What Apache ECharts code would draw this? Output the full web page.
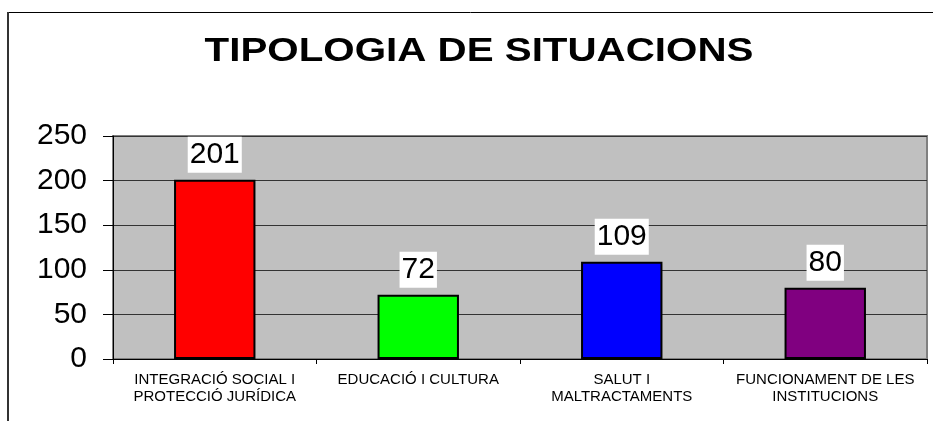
<!DOCTYPE html>
<html><head><meta charset="utf-8">
<script src="https://cdn.jsdelivr.net/npm/echarts@6/dist/echarts.min.js"></script>
<style>html,body{margin:0;padding:0;background:#fff}#c{width:933px;height:421px}</style>
</head><body><div id="c"></div>
<script>
var titleText = 'TIPOLOGIA DE SITUACIONS';
var categories = ['INTEGRACIÓ SOCIAL I\nPROTECCIÓ JURÍDICA', 'EDUCACIÓ I CULTURA', 'SALUT I\nMALTRACTAMENTS', 'FUNCIONAMENT DE LES\nINSTITUCIONS'];
var values = [201, 72, 109, 80];
var barColors = ['#ff0000', '#00ff00', '#0000ff', '#800080'];
var yTicks = [0, 50, 100, 150, 200, 250];

var FONT = 'Liberation Sans, Arial, sans-serif';
var chart = echarts.init(document.getElementById('c'));
chart.setOption({
  animation: false,
  backgroundColor: '#fff',
  graphic: [
    { type: 'line', shape: { x1: 7, y1: 12.5, x2: 940, y2: 12.5 }, style: { stroke: '#000', lineWidth: 1 }, z: 100 },
    { type: 'line', shape: { x1: 8, y1: 12, x2: 8, y2: 430 }, style: { stroke: '#333', lineWidth: 2 }, z: 100 },
    { type: 'text', x: 479, y: 52, scaleX: 1.186, z: 100,
      style: { text: titleText, font: 'bold 34px ' + FONT, fill: '#000', textAlign: 'center', textVerticalAlign: 'middle' } }
  ],
  grid: { left: 113, right: 6, top: 136, bottom: 62, show: true, backgroundColor: '#c0c0c0', borderColor: '#808080', borderWidth: 2 },
  xAxis: {
    type: 'category', data: categories,
    axisLine: { lineStyle: { color: '#000', width: 1 } },
    axisTick: { show: true, length: 5, lineStyle: { color: '#000' } },
    axisLabel: { color: '#000', fontFamily: FONT, fontSize: 15, lineHeight: 17, margin: 12, interval: 0 }
  },
  yAxis: {
    type: 'value', min: 0, max: 250, interval: 50,
    axisLine: { show: true, lineStyle: { color: '#000', width: 1 } },
    axisTick: { show: true, length: 10, lineStyle: { color: '#000' } },
    splitLine: { lineStyle: { color: '#333', width: 1 } },
    axisLabel: { color: '#000', fontFamily: FONT, fontSize: 30, margin: 26, customValues: yTicks }
  },
  series: [{
    type: 'bar', barWidth: '40%',
    data: values.map(function (v, i) { return { value: v, itemStyle: { color: barColors[i] } }; }),
    itemStyle: { borderColor: '#000', borderWidth: 2 },
    label: { show: true, position: 'top', distance: 7, color: '#000', backgroundColor: '#fff',
      fontFamily: FONT, fontSize: 30, lineHeight: 30, padding: [3, 2, 3, 2] }
  }]
});
</script></body></html>
